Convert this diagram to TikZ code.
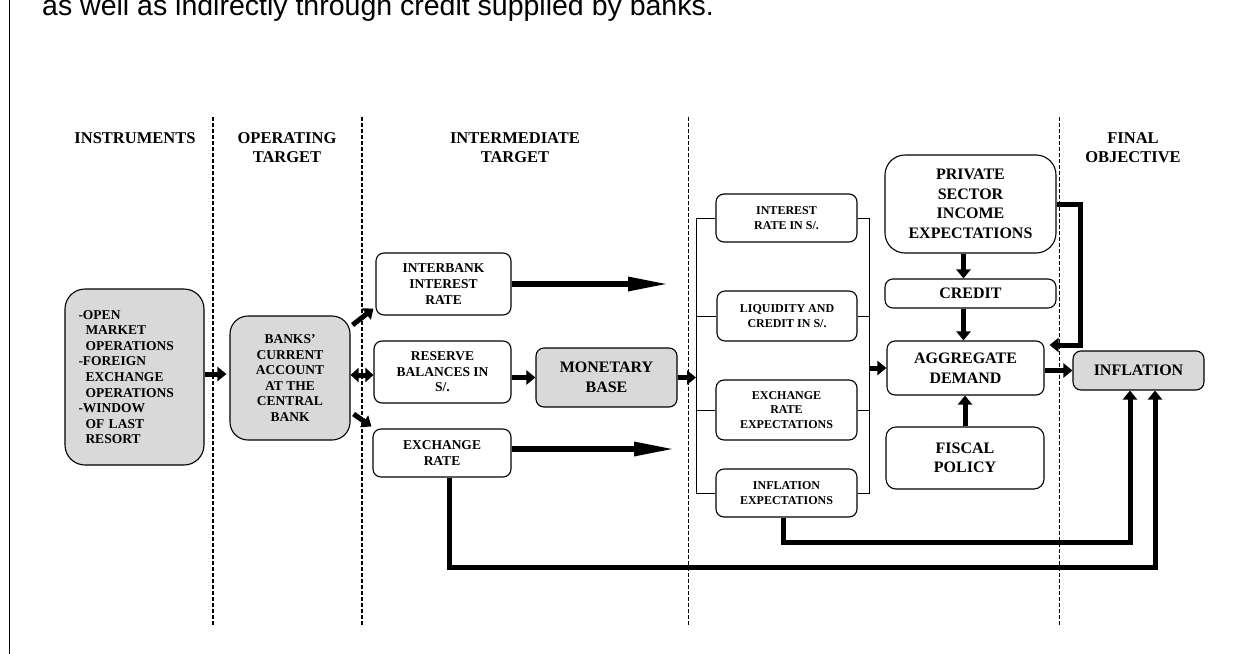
\documentclass[tikz,border=0pt]{standalone}
\usepackage{fontspec}
\setmainfont{Liberation Serif}
\newfontfamily\arialfont{Liberation Sans}
\usetikzlibrary{arrows.meta}
\definecolor{boxgray}{RGB}{217,217,217}
\tikzset{
  bx/.style={draw, line width=1.1pt, rounded corners=8pt, align=center, inner sep=0pt,
    font=\fontsize{13.5}{15.6}\selectfont\bfseries},
  gbx/.style={bx, fill=boxgray},
  smalltxt/.style={font=\fontsize{12}{14.4}\selectfont\bfseries},
  bigtxt/.style={font=\fontsize{16}{19.5}\selectfont\bfseries},
  hdr/.style={align=center, inner sep=0pt, font=\fontsize{16.5}{19}\selectfont\bfseries},
  fat/.style={line width=5pt, -{Triangle[length=9pt,width=14pt]}},
  fatdbl/.style={line width=5pt, {Triangle[length=8pt,width=14pt]}-{Triangle[length=8pt,width=14pt]}},
  longarr/.style={line width=6pt, -{Triangle[length=42pt,width=13pt]}},
  bus/.style={line width=0.9pt},
  sep/.style={line width=1.1pt, dash pattern=on 4pt off 2pt},
  septhin/.style={line width=0.8pt, dash pattern=on 4pt off 2pt},
}
\begin{document}
\begin{tikzpicture}[x=1pt,y=-1pt]
\useasboundingbox (0,0) rectangle (1247,653);
\fill[white] (0,0) rectangle (1247,653);

% frame line and top text
\draw[line width=1.6pt] (9.5,-2) -- (9.5,655);
\node[anchor=base west, inner sep=0pt, font=\arialfont\fontsize{28.5}{34}\selectfont] (toptext) at (42,15)
  {as well as indirectly through credit supplied by banks.};

% separators
\draw[sep] (213,117) -- (213,626);
\draw[sep] (362,117) -- (362,626);
\draw[septhin] (688,117) -- (688,626);
\draw[septhin] (1059,117) -- (1059,626);

% headers
\node[hdr] (h1) at (135,138) {INSTRUMENTS};
\node[hdr] (h2) at (287,148) {OPERATING\\TARGET};
\node[hdr] (h3) at (515,148) {INTERMEDIATE\\TARGET};
\node[hdr] (h4) at (1133,148) {FINAL\\OBJECTIVE};

% boxes
\node[gbx, rounded corners=20pt, text width=112pt, inner xsep=13.5pt, minimum height=176pt, align=left] (inst) at (134.5,377)
  {-OPEN\\\hspace*{7pt}MARKET\\\hspace*{7pt}OPERATIONS\\-FOREIGN\\\hspace*{7pt}EXCHANGE\\\hspace*{7pt}OPERATIONS\\-WINDOW\\\hspace*{7pt}OF LAST\\\hspace*{7pt}RESORT};
\node[gbx, rounded corners=18pt, minimum width=120pt, minimum height=124pt] (banks) at (290,378)
  {BANKS'\\CURRENT\\ACCOUNT\\AT THE\\CENTRAL\\BANK};
\node[bx, minimum width=135pt, minimum height=62pt] (ib) at (443.5,284) {INTERBANK\\INTEREST\\RATE};
\node[bx, minimum width=137pt, minimum height=62pt] (rb) at (442.5,372) {RESERVE\\BALANCES IN\\S/.};
\node[bx, minimum width=138pt, minimum height=48pt] (er) at (442,453) {EXCHANGE\\RATE};
\node[gbx, bigtxt, minimum width=141pt, minimum height=59pt] (mb) at (606.5,377.5) {MONETARY\\BASE};

\node[bx, smalltxt, minimum width=141pt, minimum height=48pt] (ir) at (786.5,218) {INTEREST\\RATE IN S/.};
\node[bx, smalltxt, minimum width=140pt, minimum height=50pt] (lc) at (787,316) {LIQUIDITY AND\\CREDIT IN S/.};
\node[bx, smalltxt, minimum width=141pt, minimum height=60pt] (ee) at (786.5,410) {EXCHANGE\\RATE\\EXPECTATIONS};
\node[bx, smalltxt, minimum width=141pt, minimum height=48pt] (ie) at (786.5,493) {INFLATION\\EXPECTATIONS};

\node[bx, bigtxt, rounded corners=20pt, minimum width=171pt, minimum height=98pt] (pse) at (970.5,204) {PRIVATE\\SECTOR\\INCOME\\EXPECTATIONS};
\node[bx, bigtxt, minimum width=171pt, minimum height=29pt] (cr) at (970.5,293.5) {CREDIT};
\node[bx, bigtxt, minimum width=157pt, minimum height=54pt] (ad) at (965.5,368) {AGGREGATE\\DEMAND};
\node[bx, bigtxt, rounded corners=10pt, minimum width=158pt, minimum height=62pt] (fp) at (965,458) {FISCAL\\POLICY};
\node[gbx, bigtxt, minimum width=131pt, minimum height=39pt] (infl) at (1138.5,370.5) {INFLATION};

% bus lines
\coordinate (bl1) at (696,218);
\coordinate (bl2) at (696,494);
\coordinate (br1) at (869,218);
\coordinate (br2) at (869,494);
\draw[bus] (bl1) -- (bl2);
\draw[bus] (br1) -- (br2);
\foreach \b in {ir,lc,ee,ie}{
  \draw[bus] (\b.west) -- (\b.west -| bl1);
  \draw[bus] (\b.east) -- (\b.east -| br1);
}

% arrows left part
\coordinate (ia) at ([yshift=3pt]inst.east);
\draw[fat] (ia) -- ([xshift=-3pt]ia -| banks.west);
\draw[fat] ([xshift=2pt,yshift=53pt]banks.east) -- ([xshift=-2pt,yshift=7pt]ib.south west);
\coordinate (bk) at ([yshift=3pt]banks.east);
\draw[fatdbl] (bk) -- (bk -| rb.west);
\draw[fat] ([xshift=3pt,yshift=-36pt]banks.east) -- ([xshift=-1pt,yshift=2pt]er.north west);

\coordinate (ibend) at (670,284);
\draw[longarr] (ib.east) -- (ibend);
\coordinate (erend) at (676,449);
\draw[longarr] (er.east |- erend) -- (erend);

\draw[fat] (rb.east |- mb.west) -- (mb.west);
\draw[fat] (mb.east) -- (mb.east -| bl1);
\draw[fat] (ad.west -| br1) -- (ad.west);

% right part
\draw[fat] ([xshift=-7pt]pse.south) -- ([xshift=-7pt]cr.north);
\draw[fat] ([xshift=-7pt]cr.south) -- ([xshift=-7pt]cr.south |- ad.north);
\draw[fat] (fp.north) -- (fp.north |- ad.south);
\draw[fat] (ad.east |- infl.west) -- (infl.west);
\coordinate (fbk) at ([xshift=5pt,yshift=23pt]ad.east);
\draw[fat] (pse.east) -- ++(24,0) |- (fbk);

% feedback lines to inflation
\draw[fat] ([xshift=-3.5pt]ie.south) -- ++(0,25) -| ([xshift=-8.5pt]infl.south);
\draw[fat] ([xshift=7pt]er.south) -- ++(0,90) -| ([xshift=16.5pt]infl.south);
\end{tikzpicture}
\end{document}
